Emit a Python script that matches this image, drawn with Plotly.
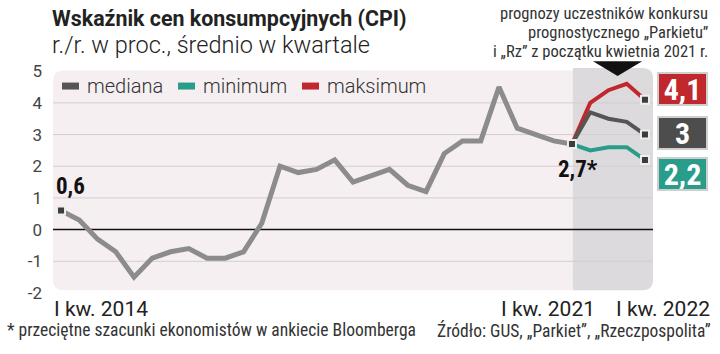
import plotly.graph_objects as go

# ---------------- data ----------------
quarters = [f"{y} Q{q}" for y in range(2014, 2022) for q in range(1, 5)][:29]  # 2014Q1 .. 2021Q1
cpi_hist = [0.6, 0.3, -0.3, -0.7,
            -1.5, -0.9, -0.7, -0.6,
            -0.9, -0.9, -0.7, 0.2,
            2.0, 1.8, 1.9, 2.2,
            1.5, 1.7, 1.9, 1.4,
            1.2, 2.4, 2.8, 2.8,
            4.5, 3.2, 3.0, 2.8,
            2.7]
fc_quarters = ["2021 Q1", "2021 Q2", "2021 Q3", "2021 Q4", "2022 Q1"]
fc_median = [2.7, 3.7, 3.5, 3.4, 3.0]
fc_min = [2.7, 2.5, 2.6, 2.6, 2.2]
fc_max = [2.7, 4.0, 4.4, 4.6, 4.1]
y_ticks = [-2, -1, 0, 1, 2, 3, 4, 5]
grid_vals = [-1, 1, 2, 3, 4]
legend_names = ["mediana", "minimum", "maksimum"]
x_labels = ["I kw. 2014", "I kw. 2021", "I kw. 2022"]
header_lines = ["prognozy uczestników konkursu", "prognostycznego „Parkietu”",
                "i „Rz” z początku kwietnia 2021 r."]

# ---------------- styles ----------------
C_HIST = "#8c8c8c"
C_MED = "#555555"
C_MIN = "#2a9d8a"
C_MAX = "#c0282d"
BG = "#f5eff2"
SHADE = "#dcdadd"
NARROW = "Liberation Sans Narrow, Roboto Condensed, DejaVu Sans Condensed, sans-serif"
LIGHT = "Roboto, Open Sans, sans-serif"

xh = list(range(len(cpi_hist)))
xf = list(range(len(cpi_hist) - 1, len(cpi_hist) - 1 + len(fc_quarters)))

X0, X1 = -0.44, 32.44
Y0, Y1 = -2, 5.1

fig = go.Figure()

fig.add_trace(go.Scatter(x=xh, y=cpi_hist, mode="lines", line=dict(color=C_HIST, width=5),
                         customdata=quarters, showlegend=False, hoverinfo="skip"))
fig.add_trace(go.Scatter(x=xf, y=fc_max, mode="lines", line=dict(color=C_MAX, width=4),
                         customdata=fc_quarters, showlegend=False, hoverinfo="skip"))
fig.add_trace(go.Scatter(x=xf, y=fc_min, mode="lines", line=dict(color=C_MIN, width=4),
                         customdata=fc_quarters, showlegend=False, hoverinfo="skip"))
fig.add_trace(go.Scatter(x=xf, y=fc_median, mode="lines", line=dict(color=C_MED, width=4),
                         customdata=fc_quarters, showlegend=False, hoverinfo="skip"))
# end / start markers
mk = dict(symbol="square", size=8, color="#3c3c3c", line=dict(color="#eeeeee", width=2))
fig.add_trace(go.Scatter(x=[xh[0], xh[-1], xf[-1], xf[-1], xf[-1]],
                         y=[cpi_hist[0], cpi_hist[-1], fc_max[-1], fc_median[-1], fc_min[-1]],
                         mode="markers", marker=mk, showlegend=False, hoverinfo="skip"))

shapes = []


def rounded(x0, x1, y0, y1, rx, ry, left=True, right=True):
    p = []
    if left:
        p.append(f"M{x0 + rx},{y0}")
    else:
        p.append(f"M{x0},{y0}")
    if right:
        p.append(f"L{x1 - rx},{y0} Q{x1},{y0} {x1},{y0 + ry} L{x1},{y1 - ry} Q{x1},{y1} {x1 - rx},{y1}")
    else:
        p.append(f"L{x1},{y0} L{x1},{y1}")
    if left:
        p.append(f"L{x0 + rx},{y1} Q{x0},{y1} {x0},{y1 - ry} L{x0},{y0 + ry} Q{x0},{y0} {x0 + rx},{y0}")
    else:
        p.append(f"L{x0},{y1}")
    p.append("Z")
    return " ".join(p)


rx, ry = 0.6, 0.33
shapes.append(dict(type="path", xref="x", yref="y", layer="below", line=dict(width=0), fillcolor=BG,
                   path=rounded(X0, X1, -1.91, 5.02, rx, ry)))
shapes.append(dict(type="path", xref="x", yref="y", layer="below", line=dict(width=0), fillcolor=SHADE,
                   path=rounded(xf[0] + 0.05, X1, -1.91, 5.1, rx, ry, left=False)))
for g in grid_vals:
    shapes.append(dict(type="line", xref="x", yref="y", x0=X0, x1=X1, y0=g, y1=g, layer="below",
                       line=dict(color="#d3cdd0", width=1)))
shapes.append(dict(type="line", xref="x", yref="y", x0=X0, x1=X1, y0=0, y1=0, layer="below",
                   line=dict(color="#111111", width=1.5)))
# black triangle pointer
shapes.append(dict(type="path", xref="paper", yref="paper", fillcolor="#111111", line=dict(width=0),
                   path="M0.9,1.03 L0.982,1.03 L0.941,0.965 Z"))

annotations = []
# legend (manual)
leg_colors = [C_MED, C_MIN, C_MAX]
leg_x = [62, 178, 302]
for name, col, lx in zip(legend_names, leg_colors, leg_x):
    px0 = (lx - 53) / 600
    px1 = (lx + 17 - 53) / 600
    shapes.append(dict(type="line", xref="paper", yref="y", x0=px0, x1=px1, y0=4.53, y1=4.53,
                       line=dict(color=col, width=7)))
    annotations.append(dict(xref="paper", yref="y", x=(lx + 23 - 53) / 600, y=4.53, text=name,
                            showarrow=False, xanchor="left", yanchor="middle",
                            font=dict(family=LIGHT, size=20, color="#333333", weight=300)))

# value labels
annotations.append(dict(x=xh[0], y=cpi_hist[0], text="<b>0,6</b>", showarrow=False, xanchor="left",
                        yanchor="bottom", xshift=-7, yshift=9,
                        font=dict(family=NARROW, size=23, color="#111111")))
annotations.append(dict(x=xh[-1], y=cpi_hist[-1], text="<b>2,7*</b>", showarrow=False, xanchor="center",
                        yanchor="top", xshift=6, yshift=-10,
                        font=dict(family=NARROW, size=23, color="#111111")))
# end value boxes
for val, col, ys in [(fc_max[-1], C_MAX, 11), (fc_median[-1], "#4d4d4d", 2), (fc_min[-1], C_MIN, -14)]:
    txt = f"{val:.1f}".replace(".", ",")
    if txt.endswith(",0"):
        txt = txt[:-2]
    annotations.append(dict(x=xf[-1], y=val, text=f"<b>{txt}</b>", showarrow=False, xanchor="center",
                            yanchor="middle", xshift=37.5, yshift=ys, width=47, height=30,
                            bgcolor=col, bordercolor="#cfcfcf", borderwidth=2, borderpad=0,
                            font=dict(family=NARROW, size=30, color="white")))

# x labels
annotations.append(dict(x=xh[0], y=0, yref="paper", text=x_labels[0], showarrow=False, xanchor="left",
                        yanchor="top", xshift=-9, yshift=-2,
                        font=dict(family=LIGHT, size=21, color="#222222")))
annotations.append(dict(x=xh[-1], y=0, yref="paper", text=x_labels[1], showarrow=False, xanchor="right",
                        yanchor="top", xshift=25, yshift=-2,
                        font=dict(family=LIGHT, size=21, color="#222222")))
annotations.append(dict(x=xf[-1], y=0, yref="paper", text=x_labels[2], showarrow=False, xanchor="right",
                        yanchor="top", xshift=67, yshift=-2,
                        font=dict(family=LIGHT, size=21, color="#222222")))

# titles
annotations.append(dict(xref="paper", yref="paper", x=-0.005, y=1.0, yshift=64, text="<b>Wskaźnik cen konsumpcyjnych (CPI)</b>",
                        showarrow=False, xanchor="left", yanchor="top",
                        font=dict(family="Roboto, sans-serif", size=21.4, color="#222222")))
annotations.append(dict(xref="paper", yref="paper", x=-0.005, y=1.0, yshift=39, text="r./r. w proc., średnio w kwartale",
                        showarrow=False, xanchor="left", yanchor="top",
                        font=dict(family=LIGHT, size=23.5, color="#222222", weight=300)))
# header lines (right)
for i, line in enumerate(header_lines):
    annotations.append(dict(xref="paper", yref="paper", x=1.095, y=1.0, yshift=54.5 - 19 * i,
                            text=line, showarrow=False, xanchor="right", yanchor="middle",
                            font=dict(family=NARROW, size=16.5, color="#333333")))
# footer
annotations.append(dict(xref="paper", yref="paper", x=-0.08, y=0, yshift=-25,
                        text="* przeciętne szacunki ekonomistów w ankiecie Bloomberga",
                        showarrow=False, xanchor="left", yanchor="top",
                        font=dict(family=NARROW, size=17.5, color="#333333")))
annotations.append(dict(xref="paper", yref="paper", x=1.1, y=0, yshift=-25,
                        text="Źródło: GUS, „Parkiet”, „Rzeczpospolita”",
                        showarrow=False, xanchor="right", yanchor="top",
                        font=dict(family=NARROW, size=17.5, color="#333333")))

fig.update_layout(
    width=720, height=354,
    margin=dict(l=53, r=67, t=68, b=61),
    paper_bgcolor="white", plot_bgcolor="rgba(0,0,0,0)",
    shapes=shapes, annotations=annotations, showlegend=False,
    xaxis=dict(range=[X0, X1], showgrid=False, zeroline=False, showticklabels=False, ticks=""),
    yaxis=dict(range=[Y0, Y1], tickvals=y_ticks, ticktext=[str(v) for v in y_ticks], showgrid=False,
               zeroline=False, ticks="", ticklabelstandoff=10,
               tickfont=dict(family=LIGHT, size=17, color="#444444")),
)

fig.write_html("out.html")
